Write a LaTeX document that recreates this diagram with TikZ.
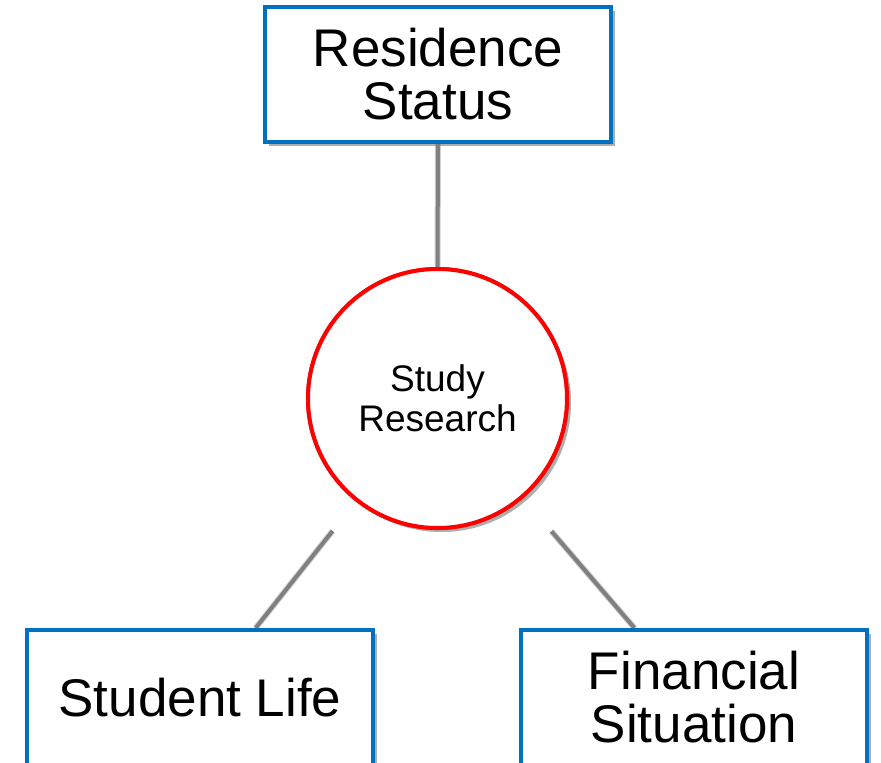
\documentclass[tikz,border=0pt]{standalone}
\usepackage{fontspec}
\setmainfont{Liberation Sans}
\usetikzlibrary{calc,shadows}
\definecolor{boxblue}{HTML}{0070C0}
\definecolor{linegrey}{HTML}{808080}
\begin{document}
\begin{tikzpicture}[x=1pt,y=-1pt,
  boxnode/.style={draw=boxblue,line width=4pt,fill=white,rectangle,
    minimum width=346pt,minimum height=135pt,align=center,inner sep=0pt,
    font=\fontsize{53}{53}\selectfont,
    drop shadow={opacity=0.4,shadow xshift=4pt,shadow yshift=-4pt}},
  hubnode/.style={draw=red,line width=4pt,fill=white,circle,
    minimum size=259pt,align=center,inner sep=0pt,
    font=\fontsize{37}{40}\selectfont,
    drop shadow={opacity=0.4,shadow xshift=4pt,shadow yshift=-4pt}},
  conn/.style={draw=linegrey,line width=4pt},
  connshadow/.style={draw=black,opacity=0.18,line width=6pt,shift={(3pt,3pt)}}
]
\useasboundingbox (0,0) rectangle (881,763);
\node[boxnode] (rs) at (438,74.5) {Residence\\Status};
\node[hubnode] (sr) at (437.5,398.5) {Study\\Research};
\node[boxnode] (sl) at (200,697.5) {Student Life};
\node[boxnode] (fs) at (694,697.5) {Financial\\Situation};
% connector end points
\coordinate (lb) at ($(sl.north west)!0.659!(sl.north east)$);
\coordinate (rb) at ($(fs.north west)!0.33!(fs.north east)$);
\coordinate (la) at ($(sr.center)!169pt!(lb)$);
\coordinate (ra) at ($(sr.center)!175pt!(rb)$);
% shadows of connectors
\draw[connshadow] (rs.south) -- (sr.north);
\draw[connshadow] (la) -- (lb);
\draw[connshadow] (ra) -- (rb);
% connectors
\draw[conn] (rs.south) -- (sr.north);
\draw[conn] (la) -- (lb);
\draw[conn] (ra) -- (rb);
% redraw boxes on top so connectors meet the border
\node[boxnode] at (rs) {Residence\\Status};
\node[hubnode] at (sr) {Study\\Research};
\node[boxnode] at (sl) {Student Life};
\node[boxnode] at (fs) {Financial\\Situation};
\end{tikzpicture}
\end{document}
